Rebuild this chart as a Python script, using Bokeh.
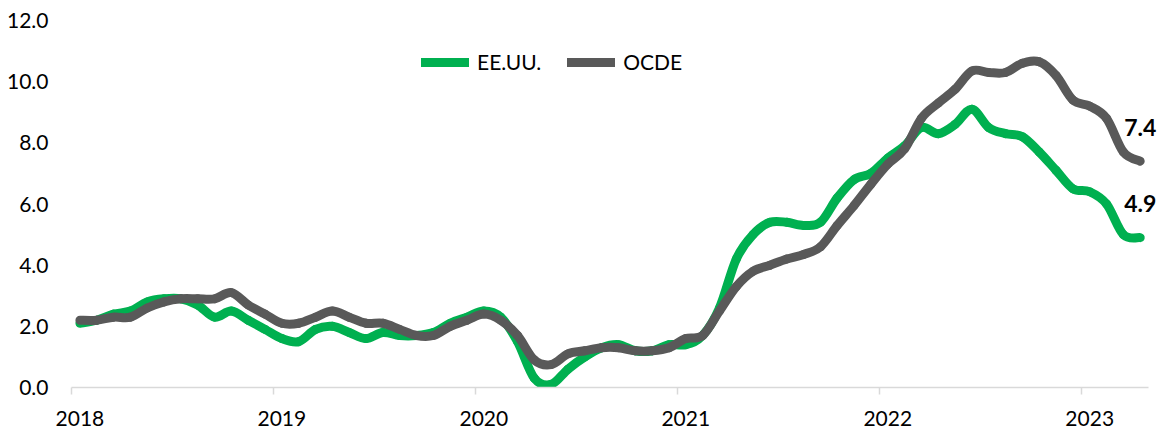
from bokeh.plotting import figure
from bokeh.models import (Range1d, FixedTicker, NumeralTickFormatter, Legend, LegendItem,
                          ColumnDataSource, LabelSet)
from bokeh.core.properties import value
from bokeh.embed import file_html
from bokeh.resources import INLINE

years = ["2018", "2019", "2020", "2021", "2022", "2023"]
us = [2.1, 2.2, 2.4, 2.5, 2.8, 2.9, 2.9, 2.7, 2.3, 2.5, 2.2, 1.9,
      1.6, 1.5, 1.9, 2.0, 1.8, 1.6, 1.8, 1.7, 1.7, 1.8, 2.1, 2.3,
      2.5, 2.3, 1.5, 0.3, 0.1, 0.6, 1.0, 1.3, 1.4, 1.2, 1.2, 1.4,
      1.4, 1.7, 2.6, 4.2, 5.0, 5.4, 5.4, 5.3, 5.4, 6.2, 6.8, 7.0,
      7.5, 7.9, 8.5, 8.3, 8.6, 9.1, 8.5, 8.3, 8.2, 7.7, 7.1, 6.5,
      6.4, 6.0, 5.0, 4.9]
oecd = [2.2, 2.2, 2.3, 2.3, 2.6, 2.8, 2.9, 2.9, 2.9, 3.1, 2.7, 2.4,
        2.1, 2.1, 2.3, 2.5, 2.3, 2.1, 2.1, 1.9, 1.7, 1.7, 2.0, 2.2,
        2.4, 2.2, 1.7, 0.9, 0.75, 1.1, 1.2, 1.3, 1.3, 1.2, 1.2, 1.3,
        1.6, 1.7, 2.5, 3.3, 3.8, 4.0, 4.2, 4.35, 4.6, 5.3, 5.95, 6.65,
        7.3, 7.8, 8.8, 9.3, 9.75, 10.35, 10.3, 10.3, 10.6, 10.65, 10.2, 9.4,
        9.2, 8.8, 7.7, 7.4]
series_names = ["EE.UU.", "OCDE"]
colors = ["#00B050", "#595959"]

FONT = "Lato"
W, H = 1160, 428
FRAME_LEFT, FRAME_TOP, FRAME_BOTTOM = 71, 20, 41
MONTH_PX = 16.83
n = len(us)
x = list(range(n))
x_end = -0.5 + (W - FRAME_LEFT) / MONTH_PX

p = figure(width=W, height=H, output_backend="svg", toolbar_location=None,
           x_range=Range1d(-0.5, x_end), y_range=Range1d(0, 12),
           min_border_left=FRAME_LEFT, min_border_right=0,
           min_border_top=FRAME_TOP, min_border_bottom=FRAME_BOTTOM)
p.outline_line_color = None
p.background_fill_color = "white"
p.border_fill_color = "white"
p.xgrid.visible = False
p.ygrid.visible = False

# x axis: year labels at January, tick marks at year boundaries
year_idx = [12 * i for i in range(len(years))]
p.xaxis.bounds = (-0.5, n - 0.5)
p.xaxis.ticker = FixedTicker(ticks=year_idx, minor_ticks=[v - 0.5 for v in year_idx])
p.xaxis.major_label_overrides = {v: s for v, s in zip(year_idx, years)}
p.xaxis.axis_line_color = "#D9D9D9"
p.xaxis.axis_line_width = 1.5
p.xaxis.major_tick_line_color = None
p.xaxis.major_tick_out = 0
p.xaxis.major_tick_in = 0
p.xaxis.minor_tick_line_color = "#D9D9D9"
p.xaxis.minor_tick_line_width = 1.5
p.xaxis.minor_tick_out = 7
p.xaxis.minor_tick_in = 0
p.xaxis.major_label_standoff = 16
p.xaxis.major_label_text_font = FONT
p.xaxis.major_label_text_font_size = "21px"
p.xaxis.major_label_text_color = "#000000"

# y axis
p.yaxis.ticker = FixedTicker(ticks=[0, 2, 4, 6, 8, 10, 12])
p.yaxis.formatter = NumeralTickFormatter(format="0.0")
p.yaxis.axis_line_color = None
p.yaxis.major_tick_line_color = None
p.yaxis.minor_tick_line_color = None
p.yaxis.major_tick_out = 0
p.yaxis.major_tick_in = 0
p.yaxis.major_label_standoff = 23
p.yaxis.major_label_text_font = FONT
p.yaxis.major_label_text_font_size = "21px"
p.yaxis.major_label_text_color = "#000000"


def smooth_segments(xs, ys):
    """Cubic Bezier segments through the data points (Catmull-Rom style smoothing)."""
    m = len(xs)
    d = dict(x0=[], y0=[], x1=[], y1=[], cx0=[], cy0=[], cx1=[], cy1=[])
    for i in range(m - 1):
        a = i - 1 if i > 0 else i
        b = i + 2 if i + 2 < m else i + 1
        d["x0"].append(xs[i]); d["y0"].append(ys[i])
        d["x1"].append(xs[i + 1]); d["y1"].append(ys[i + 1])
        d["cx0"].append(xs[i] + (xs[i + 1] - xs[a]) / 6)
        d["cy0"].append(ys[i] + (ys[i + 1] - ys[a]) / 6)
        d["cx1"].append(xs[i + 1] - (xs[b] - xs[i]) / 6)
        d["cy1"].append(ys[i + 1] - (ys[b] - ys[i]) / 6)
    return ColumnDataSource(d)


renderers = []
for vals, col in zip([us, oecd], colors):
    src = smooth_segments(x, vals)
    r = p.bezier(x0="x0", y0="y0", x1="x1", y1="y1", cx0="cx0", cy0="cy0",
                 cx1="cx1", cy1="cy1", source=src, line_color=col, line_width=9,
                 line_cap="round", line_join="round")
    renderers.append(r)

legend = Legend(items=[LegendItem(label=series_names[0], renderers=[renderers[0]]),
                       LegendItem(label=series_names[1], renderers=[renderers[1]])],
                orientation="horizontal", location=(350, 313),
                glyph_width=48, glyph_height=24, label_standoff=8, spacing=26,
                padding=0, margin=0, border_line_color=None, background_fill_alpha=0,
                label_text_font=FONT, label_text_font_size="21px", label_text_color="#000000")
p.add_layout(legend)

# end-of-series value labels
last = n - 1
lab_src = ColumnDataSource(dict(x=[last, last], y=[oecd[last], us[last]],
                                t=[f"{oecd[last]:.1f}", f"{us[last]:.1f}"]))
labels = LabelSet(x="x", y="y", text="t", source=lab_src, y_offset=34,
                  text_align="center", text_baseline="middle",
                  text_font=value(FONT), text_font_size=value("23px"),
                  text_font_style=value("bold"), text_color=value("#000000"))
p.add_layout(labels)

open("out.html", "w").write(file_html(p, INLINE))
